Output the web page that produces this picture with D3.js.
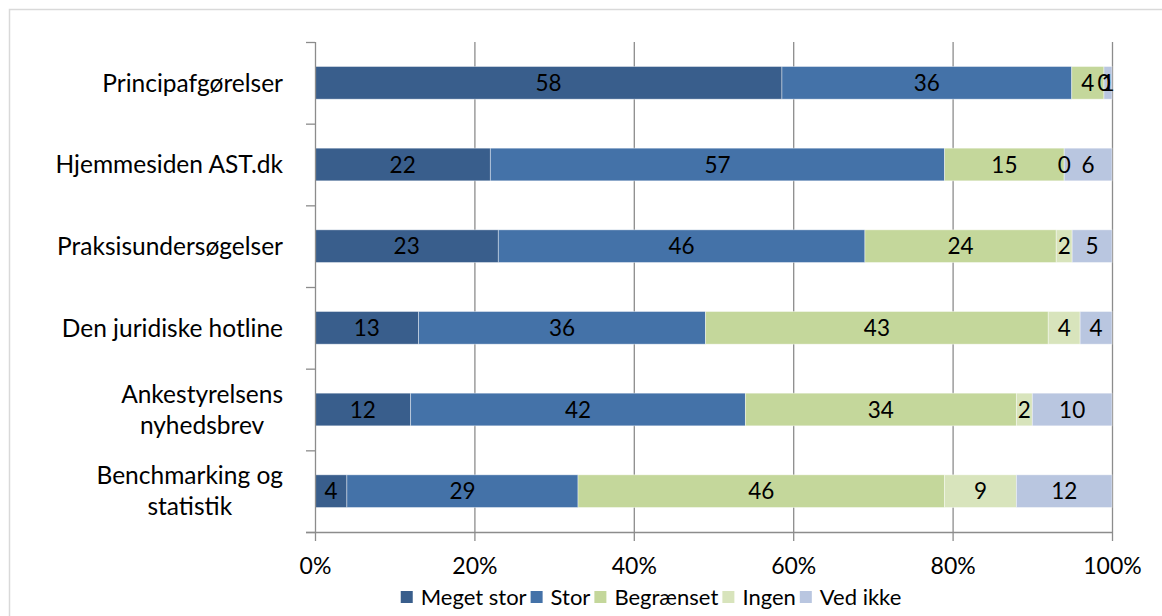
<!DOCTYPE html>
<html>
<head>
<meta charset="utf-8">
<script src="https://cdn.jsdelivr.net/npm/d3@7"></script>
<style>
  body { margin: 0; background: #fff; }
  svg text { font-family: Lato, "Open Sans", sans-serif; fill: #000; }
</style>
</head>
<body>
<svg id="chart" width="1162" height="616"></svg>
<script>
// categories top to bottom
const categories = [
  "Principafgørelser",
  "Hjemmesiden AST.dk",
  "Praksisundersøgelser",
  "Den juridiske hotline",
  "Ankestyrelsens nyhedsbrev",
  "Benchmarking og statistik"
];
// how each label is split across lines
const labelLines = [
  ["Principafgørelser"],
  ["Hjemmesiden AST.dk"],
  ["Praksisundersøgelser"],
  ["Den juridiske hotline"],
  ["Ankestyrelsens", "nyhedsbrev"],
  ["Benchmarking og", "statistik"]
];
const seriesNames = ["Meget stor", "Stor", "Begrænset", "Ingen", "Ved ikke"];
const megetStor = [58, 22, 23, 13, 12, 4];
const stor      = [36, 57, 46, 36, 42, 29];
const begraenset = [4, 15, 24, 43, 34, 46];
const ingen     = [0, 0, 2, 4, 2, 9];
const vedIkke   = [1, 6, 5, 4, 10, 12];
const xTicks = [0, 0.2, 0.4, 0.6, 0.8, 1];

const colors = ["#395e8c", "#4472a8", "#c4d79b", "#d8e4bc", "#b9c6e0"];

const rows = categories.map((c, i) => ({
  cat: c,
  "Meget stor": megetStor[i],
  "Stor": stor[i],
  "Begrænset": begraenset[i],
  "Ingen": ingen[i],
  "Ved ikke": vedIkke[i]
}));

const svg = d3.select('#chart');

// chart frame (cut off at right / bottom like the original)
svg.append('path')
  .attr('d', 'M9.5,616 L9.5,9.5 L1162,9.5')
  .attr('fill', 'none')
  .attr('stroke', '#d9d9d9')
  .attr('stroke-width', 1.5);

const pLeft = 315, pRight = 1112, pTop = 42, pBottom = 532;

const x = d3.scaleLinear().domain([0, 1]).range([pLeft, pRight]);
const y = d3.scaleBand().domain(categories).range([pTop, pBottom])
  .paddingInner(0.6).paddingOuter(0.3);

const stack = d3.stack().keys(seriesNames).offset(d3.stackOffsetExpand);
const stacked = stack(rows);

const gridColor = '#8c8c8c';

// vertical gridlines
svg.append('g')
  .selectAll('line')
  .data(xTicks.slice(1))
  .enter()
  .append('line')
  .attr('x1', d => x(d) + 0.5)
  .attr('x2', d => x(d) + 0.5)
  .attr('y1', pTop)
  .attr('y2', pBottom)
  .attr('stroke', gridColor)
  .attr('stroke-width', 1.3);

// bars
const layers = svg.append('g')
  .selectAll('g')
  .data(stacked)
  .enter()
  .append('g')
  .attr('fill', (d, i) => colors[i]);

layers.selectAll('rect')
  .data(d => d)
  .enter()
  .append('rect')
  .attr('x', d => x(d[0]))
  .attr('width', d => Math.max(0, x(d[1]) - x(d[0])))
  .attr('y', d => y(d.data.cat))
  .attr('height', y.bandwidth())
  .attr('stroke', '#ffffff')
  .attr('stroke-opacity', 0.5)
  .attr('stroke-width', 0.8);

// value labels, drawn after all bars so none get covered
const valueG = svg.append('g');
stacked.forEach(layer => {
  valueG.append('g').selectAll('text')
    .data(layer)
    .enter()
    .append('text')
    .attr('x', d => (x(d[0]) + x(d[1])) / 2)
    .attr('y', d => y(d.data.cat) + y.bandwidth() / 2)
    .attr('dy', '0.36em')
    .attr('text-anchor', 'middle')
    .attr('font-size', '22.5px')
    .attr('fill', '#000')
    .text(d => d.data[layer.key]);
});

// bottom axis
const xAxis = svg.append('g')
  .attr('transform', 'translate(0,' + pBottom + ')')
  .call(d3.axisBottom(x).tickValues(xTicks).tickFormat(d3.format('.0%'))
    .tickSizeInner(9).tickSizeOuter(0).tickPadding(17));
xAxis.select('.domain').attr('stroke', gridColor).attr('stroke-width', 1.3)
  .attr('d', 'M' + (pLeft - 9) + ',0.5H' + pRight);
xAxis.selectAll('.tick line').attr('stroke', gridColor).attr('stroke-width', 1.3);
xAxis.selectAll('.tick text').attr('font-size', '23px').attr('fill', '#000');

// left axis line and boundary ticks
svg.append('line')
  .attr('x1', pLeft + 0.5).attr('x2', pLeft + 0.5)
  .attr('y1', pTop).attr('y2', pBottom)
  .attr('stroke', gridColor).attr('stroke-width', 1.3);

const bounds = d3.range(categories.length + 1).map(i => pTop + i * y.step());
svg.append('g')
  .selectAll('line')
  .data(bounds)
  .enter()
  .append('line')
  .attr('x1', pLeft - 9).attr('x2', pLeft)
  .attr('y1', d => d + 0.5).attr('y2', d => d + 0.5)
  .attr('stroke', gridColor).attr('stroke-width', 1.3);

// category labels (multi-line ones centered, widest line right aligned)
const labelRight = 283;
const lineGap = 31;
const labels = svg.append('g')
  .selectAll('text')
  .data(categories)
  .enter()
  .append('text')
  .attr('font-size', '24.5px');

labels.each(function(cat, i) {
  const t = d3.select(this);
  const lines = labelLines[i];
  const cy = y(cat) + y.bandwidth() / 2;
  lines.forEach((ln, j) => {
    t.append('tspan')
      .attr('y', cy + (j - (lines.length - 1) / 2) * lineGap)
      .attr('dy', '0.36em')
      .text(ln);
  });
  const tsp = t.selectAll('tspan');
  const maxW = d3.max(tsp.nodes(), n => n.getComputedTextLength());
  if (lines.length > 1) {
    t.attr('text-anchor', 'middle');
    tsp.attr('x', labelRight - maxW / 2);
  } else {
    t.attr('text-anchor', 'end');
    tsp.attr('x', labelRight);
  }
});

// legend
const legend = svg.append('g');
const legendY = 597;
let lx = 0;
const items = legend.selectAll('g')
  .data(seriesNames)
  .enter()
  .append('g');
items.append('rect')
  .attr('width', 12).attr('height', 12)
  .attr('y', legendY - 6)
  .attr('fill', (d, i) => colors[i]);
items.append('text')
  .attr('x', 20)
  .attr('y', legendY)
  .attr('dy', '0.36em')
  .attr('font-size', '22px')
  .text(d => d);
items.each(function() {
  const w = this.getBBox().width;
  d3.select(this).attr('transform', 'translate(' + lx + ',0)');
  lx += w + 4;
});
const totalW = lx - 4;
legend.attr('transform', 'translate(' + (651 - totalW / 2) + ',0)');
</script>
</body>
</html>
